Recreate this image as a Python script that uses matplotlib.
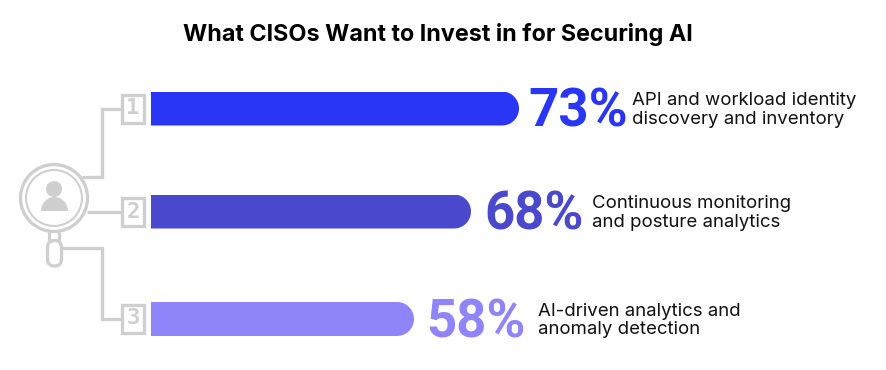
import numpy as np
import matplotlib
matplotlib.use('Agg')
import matplotlib.pyplot as plt
from matplotlib.patches import Circle, FancyBboxPatch, Polygon, Rectangle

plt.rcParams['font.family'] = ['Inter', 'DejaVu Sans']

# data
title = "What CISOs Want to Invest in for Securing AI"
values = [73, 68, 58]
ranks = ["1", "2", "3"]
labels = ["API and workload identity\ndiscovery and inventory",
          "Continuous monitoring\nand posture analytics",
          "AI-driven analytics and\nanomaly detection"]

# styles
colors = ["#2a36f5", "#4a48cc", "#8f84f9"]
gray = "#cfcfcf"
bar_y = [108.5, 211.5, 319]
bar_h = 34
radius = 17
bar_left = 151
pct_gap = [9, 13, 12]
label_gap = [113, 121, 124]

# the bars in the original are not to a linear scale, so the x axis is warped to match
scale_pct = [0, 58, 68, 73, 100]
scale_px = [0, 263, 320, 368, 735]
def forward(x):
    return np.interp(x, scale_pct, scale_px)
def inverse(x):
    return np.interp(x, scale_px, scale_pct)

W, H = 886, 370
fig = plt.figure(figsize=(W / 100, H / 100), dpi=100)

# overlay in pixel coordinates for the icon and text
deco = fig.add_axes([0, 0, 1, 1])
deco.set_xlim(0, W)
deco.set_ylim(H, 0)
deco.axis('off')

# bars
ax = fig.add_axes([bar_left / W, 0, (W - bar_left) / W, 1])
ax.set_xscale('function', functions=(forward, inverse))
ax.set_xlim(0, 100)
ax.set_ylim(H, 0)
ax.axis('off')
ax.patch.set_alpha(0)

bars = ax.barh(bar_y, values, height=bar_h, color=colors, linewidth=0)

t = np.linspace(-np.pi / 2, np.pi / 2, 40)
for i, bar in enumerate(bars):
    y = bar_y[i]
    end = bar_left + forward(values[i])
    # clip each bar to a shape with a true half circle on the right
    xs = np.r_[bar_left - 5, end - radius + radius * np.cos(t), bar_left - 5]
    ys = np.r_[y - bar_h / 2, y + radius * np.sin(t), y + bar_h / 2]
    shape = Polygon(np.c_[xs, ys], closed=True, transform=deco.transData,
                    facecolor='none', edgecolor='none')
    deco.add_patch(shape)
    bar.set_clip_path(shape)
    deco.text(end + pct_gap[i], y + 3.5, f"{values[i]}%", color=colors[i], fontsize=38,
              fontweight='bold', va='center', ha='left', family=['Roboto', 'DejaVu Sans'])
    deco.text(end + label_gap[i], y + 1.5, labels[i], color="#111111", fontsize=13.4,
              va='center', ha='left', linespacing=1.15)

deco.text(438, 34.5, title, color="#000000", fontsize=16.8, fontweight='bold',
          ha='center', va='center')

# connector lines
lw = 3.3 * 0.72
conn_x = [[82, 102, 102, 121], [87, 121], [62, 102, 102, 121]]
conn_y = [[176.5, 176.5, 109, 109], [212, 212], [248, 248, 319, 319]]
for xs, ys in zip(conn_x, conn_y):
    deco.plot(xs, ys, color=gray, lw=lw, solid_joinstyle='miter', solid_capstyle='butt')

# numbered boxes
box_top = [94.5, 198, 304.5]
for top, r in zip(box_top, ranks):
    deco.add_patch(Rectangle((122, top), 22, 28, fill=False, edgecolor=gray, lw=lw))
    deco.text(133, top + 14, r, color=gray, fontsize=16, fontweight='bold',
              ha='center', va='center', family=['DejaVu Sans Mono'])

# magnifying glass with person
deco.add_patch(Circle((54, 198), 33.5, fill=False, edgecolor=gray, lw=lw))
deco.add_patch(Circle((54, 198), 28, fill=False, edgecolor=gray, lw=1.5))
deco.add_patch(Circle((54, 189), 8, facecolor=gray, edgecolor='none'))
a = np.linspace(np.pi, 2 * np.pi, 30)
deco.add_patch(Polygon(np.c_[54.5 + 13.5 * np.cos(a), 211 + 14 * np.sin(a)], closed=True,
                       facecolor=gray, edgecolor='none'))
deco.plot([49, 49], [232, 240], color=gray, lw=lw, solid_capstyle='butt')
deco.plot([59, 59], [232, 240], color=gray, lw=lw, solid_capstyle='butt')
deco.add_patch(FancyBboxPatch((47.5, 240.5), 14, 25.5, boxstyle="round,pad=0,rounding_size=7",
                              fill=False, edgecolor=gray, lw=lw))

fig.savefig("out.png", dpi=100)
